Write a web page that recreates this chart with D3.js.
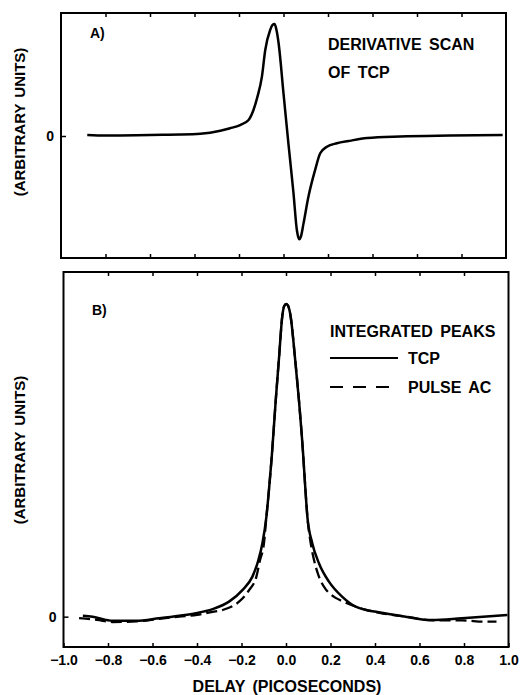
<!DOCTYPE html>
<html>
<head>
<meta charset="utf-8">
<script src="https://cdn.jsdelivr.net/npm/d3@7"></script>
<style>
  body{margin:0;background:#fff;}
  text{font-family:"Liberation Sans",Arial,sans-serif;font-weight:bold;fill:#000;}
</style>
</head>
<body>
<svg id="chart"></svg>
<script>
// panel A: derivative scan of TCP (delay in ps, arbitrary units)
var derivDelay=[-0.882,-0.80,-0.734,-0.60,-0.464,-0.374,-0.284,-0.24,-0.195,-0.157,-0.135,-0.117,-0.097,-0.082,-0.06,-0.05,-0.040,-0.032,-0.022,0.0,0.022,0.045,0.060,0.066,0.071,0.078,0.090,0.112,0.142,0.165,0.195,0.24,0.292,0.376,0.524,0.75,0.985];
var derivValue=[0.01,0.004,0.005,0.01,0.013,0.02,0.047,0.069,0.098,0.143,0.232,0.351,0.53,0.768,0.946,0.99,1.0,0.95,0.828,0.381,-0.065,-0.512,-0.839,-0.90,-0.922,-0.90,-0.78,-0.542,-0.304,-0.154,-0.096,-0.065,-0.045,-0.018,-0.004,0.004,0.009];

// panel B: integrated peaks
var tcpDelay=[-0.913,-0.869,-0.779,-0.674,-0.570,-0.480,-0.405,-0.330,-0.256,-0.196,-0.151,-0.124,-0.106,-0.088,-0.076,-0.064,-0.046,-0.031,-0.017,-0.008,0.001,0.010,0.021,0.040,0.058,0.076,0.086,0.096,0.118,0.148,0.193,0.252,0.313,0.417,0.537,0.656,0.791,0.995];
var tcpValue=[0.003,0.0,-0.013,-0.013,-0.005,0.003,0.011,0.024,0.048,0.085,0.128,0.181,0.235,0.32,0.41,0.512,0.693,0.831,0.959,0.993,1.0,0.993,0.959,0.831,0.693,0.53,0.42,0.32,0.235,0.171,0.112,0.064,0.032,0.014,0.0,-0.011,-0.005,0.005];
var acDelay=[-0.93,-0.85,-0.78,-0.67,-0.57,-0.48,-0.40,-0.33,-0.286,-0.211,-0.166,-0.133,-0.117,-0.099,-0.088,-0.076,-0.064,-0.046,-0.031,-0.017,-0.008,0.001,0.010,0.021,0.040,0.058,0.076,0.086,0.096,0.111,0.126,0.148,0.178,0.20,0.223,0.252,0.305,0.36,0.42,0.54,0.66,0.79,0.895,0.946];
var acValue=[-0.005,-0.01,-0.017,-0.015,-0.007,0.0,0.006,0.015,0.021,0.048,0.085,0.128,0.18,0.235,0.32,0.41,0.512,0.693,0.831,0.959,0.993,1.0,0.993,0.959,0.831,0.693,0.53,0.42,0.32,0.235,0.181,0.128,0.088,0.072,0.060,0.050,0.034,0.022,0.012,0.0,-0.012,-0.012,-0.016,-0.016];

var xTicks=[-1.0,-0.8,-0.6,-0.4,-0.2,0.0,0.2,0.4,0.6,0.8,1.0];
var innerTicks=[-0.8,-0.6,-0.4,-0.2,0.0,0.2,0.4,0.6,0.8];

var w=527,h=695;
var svg=d3.select("#chart").attr("width",w).attr("height",h);
svg.append("rect").attr("width",w).attr("height",h).attr("fill","#fff");

function zip(a,b){return a.map(function(d,i){return {x:d,y:b[i]};});}

// scales
var xA=d3.scaleLinear().domain([-1,1]).range([61,506]);
var yA=d3.scaleLinear().domain([-1.089,1.098]).range([258,13]);
var xB=d3.scaleLinear().domain([-1,1]).range([63.5,508.5]);
var yB=d3.scaleLinear().domain([-0.097,1.102]).range([647,272]);

function panel(x,y){
  var g=svg.append("g");
  g.append("rect")
   .attr("x",x(-1)).attr("y",y.range()[1])
   .attr("width",x(1)-x(-1)).attr("height",y.range()[0]-y.range()[1])
   .attr("fill","none").attr("stroke","#000").attr("stroke-width",2);
  g.append("g")
   .attr("transform","translate(0,"+y.range()[1]+")")
   .call(d3.axisTop(x).tickValues(innerTicks).tickSize(-4).tickFormat(""))
   .call(function(s){s.select(".domain").remove();s.selectAll("line").attr("stroke-width",1.5);});
  return g;
}

var gA=panel(xA,yA);
var gB=panel(xB,yB);

// bottom ticks of panel A (no labels)
gA.append("g")
  .attr("transform","translate(0,258)")
  .call(d3.axisBottom(xA).tickValues(innerTicks).tickSize(-4).tickFormat(""))
  .call(function(s){s.select(".domain").remove();s.selectAll("line").attr("stroke-width",1.5);});

// bottom axis of panel B with labels
gB.append("g")
  .attr("transform","translate(0,647)")
  .call(d3.axisBottom(xB).tickValues(xTicks).tickSize(-4).tickPadding(8).tickFormat(d3.format(".1f")))
  .call(function(s){
    s.select(".domain").remove();
    s.selectAll("line").attr("stroke-width",1.5);
    s.selectAll("text").attr("font-size",14).attr("font-family",null);
  });

// y zero ticks
[[gA,xA,yA],[gB,xB,yB]].forEach(function(p){
  p[0].append("g")
    .attr("transform","translate("+p[1](-1)+",0)")
    .call(d3.axisLeft(p[2]).tickValues([0]).tickSize(-5).tickPadding(7).tickFormat(d3.format("d")))
    .call(function(s){
      s.select(".domain").remove();
      s.selectAll("line").attr("stroke-width",1.5);
      s.selectAll("text").attr("font-size",14).attr("font-family",null);
    });
});

var lineA=d3.line().x(function(d){return xA(d.x);}).y(function(d){return yA(d.y);}).curve(d3.curveMonotoneX);
var lineB=d3.line().x(function(d){return xB(d.x);}).y(function(d){return yB(d.y);}).curve(d3.curveMonotoneX);

gA.append("path").datum(zip(derivDelay,derivValue))
  .attr("d",lineA).attr("fill","none").attr("stroke","#000").attr("stroke-width",2.5);

gB.append("path").datum(zip(acDelay,acValue))
  .attr("d",lineB).attr("fill","none").attr("stroke","#000").attr("stroke-width",2.3)
  .attr("stroke-dasharray","11,5");
gB.append("path").datum(zip(tcpDelay,tcpValue))
  .attr("d",lineB).attr("fill","none").attr("stroke","#000").attr("stroke-width",2.5);

// texts
svg.append("text").attr("x",90).attr("y",38).attr("font-size",14).text("A)");
svg.append("text").attr("x",92).attr("y",315).attr("font-size",14).text("B)");
svg.append("text").attr("x",328).attr("y",50).attr("font-size",16).attr("word-spacing",3).text("DERIVATIVE SCAN");
svg.append("text").attr("x",328).attr("y",78).attr("font-size",16).attr("word-spacing",3).text("OF TCP");

svg.append("text").attr("x",330).attr("y",337).attr("font-size",16).attr("word-spacing",3).text("INTEGRATED PEAKS");
svg.append("line").attr("x1",330).attr("x2",398).attr("y1",358).attr("y2",358)
   .attr("stroke","#000").attr("stroke-width",2);
svg.append("text").attr("x",408).attr("y",364).attr("font-size",16).text("TCP");
svg.append("line").attr("x1",330).attr("x2",398).attr("y1",387).attr("y2",387)
   .attr("stroke","#000").attr("stroke-width",2).attr("stroke-dasharray","13,10");
svg.append("text").attr("x",408).attr("y",393).attr("font-size",16).attr("word-spacing",3).text("PULSE AC");

svg.append("text").attr("x",287).attr("y",692).attr("font-size",16).attr("text-anchor","middle")
   .attr("word-spacing",3).text("DELAY (PICOSECONDS)");

[122,450].forEach(function(cy){
  svg.append("text").attr("transform","translate(25,"+cy+") rotate(-90)")
     .attr("font-size",15).attr("text-anchor","middle").attr("word-spacing",2)
     .text("(ARBITRARY UNITS)");
});
</script>
</body>
</html>
